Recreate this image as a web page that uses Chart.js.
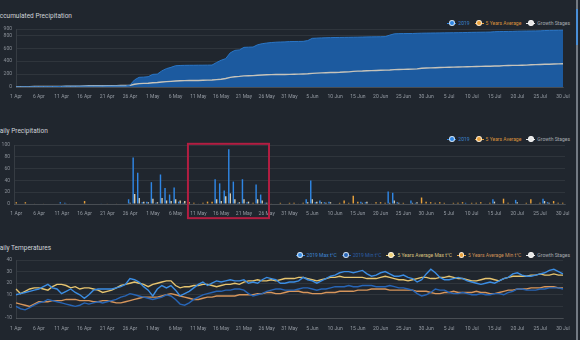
<!DOCTYPE html>
<html>
<head>
<meta charset="utf-8">
<script src="https://cdn.jsdelivr.net/npm/chart.js@4.4.1/dist/chart.umd.min.js"></script>
<style>
  html, body { margin: 0; padding: 0; background: #20262e; width: 580px; height: 340px; overflow: hidden; }
  body { position: relative; font-family: Roboto, 'Liberation Sans', sans-serif; }
  canvas { position: absolute; left: 0; }
  .title { position: absolute; left: -4.5px; font-size: 6.5px; line-height: 1; color: #cfd3d8; white-space: nowrap; }
  .legend { position: absolute; right: 10px; height: 5px; display: flex; align-items: center; font-size: 5px; line-height: 1; white-space: nowrap; }
  .legend .item { display: flex; align-items: center; margin-left: 5px; }
  .legend .mk { position: relative; width: 9px; height: 5px; margin-right: 2px; }
  .legend .ln { position: absolute; left: 0; right: 0; top: 2px; height: 1px; }
  .legend .dot { position: absolute; left: 2.2px; top: 0.2px; width: 3.8px; height: 3.8px; border-radius: 50%; border: 0.6px solid rgba(255,255,255,0.75); box-sizing: content-box; margin-left: -0.7px; margin-top: -0.5px; }
  .scroll { position: absolute; left: 576px; top: 0; width: 2px; height: 340px; background: #737a83; }
  .thumb { position: absolute; left: 0; top: 9px; width: 2px; height: 36px; background: #4a8fd8; }
</style>
</head>
<body>
<div class="title" style="top:12.7px">Accumulated Precipitation</div>
<div class="legend" id="legend1" style="top:20.8px"></div>
<canvas id="accChart" width="580" height="92" style="top:18px"></canvas>

<div class="title" style="top:127.7px">Daily Precipitation</div>
<div class="legend" id="legend2" style="top:136.5px"></div>
<canvas id="dailyChart" width="580" height="100" style="top:128px"></canvas>

<div class="title" style="top:244.7px">Daily Temperatures</div>
<div class="legend" id="legend3" style="top:252.5px"></div>
<canvas id="tempChart" width="580" height="96" style="top:244px"></canvas>

<div class="scroll"><div class="thumb"></div></div>

<script>
// categories: 1 Apr .. 30 Jul
const months = [['Apr', 30], ['May', 31], ['Jun', 30], ['Jul', 30]];
const days = [];
months.forEach(([m, n]) => { for (let d = 1; d <= n; d++) days.push(d + ' ' + m); });

// accumulated precipitation (mm)
const accum2019 = [
  2,2,3,3,4,4,5,5,6,6,
  9,11,12,12,12,13,13,13,13,14,
  14,14,15,15,15,30,110,150,153,160,
  196,200,250,285,305,330,334,336,337,337,
  338,338,339,340,380,415,440,530,568,575,
  615,618,620,655,672,682,690,695,698,700,
  705,706,707,708,720,755,758,762,764,766,
  768,769,770,771,772,773,775,777,778,779,
  780,782,805,825,828,829,830,830,833,835,
  836,837,838,839,840,841,842,843,844,846,
  848,849,850,851,852,858,860,861,862,863,
  866,867,868,869,870,871,876,878,879,880,881
];
const accumAvg = [
  3,3,6,6,7,7,8,9,9,10,
  10,11,12,12,13,18,19,19,20,20,
  21,21,22,23,23,25,42,52,56,59,
  66,70,78,84,88,93,97,99,100,101,
  102,104,106,108,114,120,132,150,160,165,
  172,175,177,183,187,190,192,193,194,195,
  196,198,200,202,205,212,216,219,221,224,
  226,228,232,234,242,246,248,252,254,257,
  260,262,264,270,272,274,276,278,281,290,
  294,297,299,302,304,306,308,310,312,314,
  316,318,320,321,323,326,327,332,334,335,
  336,338,340,346,347,349,352,354,358,359,361
];
const accumTicks = [0, 200, 400, 600, 800, 900];

// daily precipitation (mm)
const daily2019 = [
  0,0,0,0,1,0,1,0,1,0,
  3,2,1,0,0,1,0,0,0,1,
  0,0,1,0,0,8,79,53,3,4,
  37,2,50,27,16,28,4,2,1,0,
  1,0,1,0,42,35,23,93,38,2,
  42,3,1,33,16,2,0,0,1,0,
  0,1,0,1,8,40,3,6,3,4,
  1,0,0,1,0,1,4,3,1,0,
  1,0,21,19,3,1,0,6,2,1,
  1,0,1,0,0,0,0,1,0,2,
  1,0,0,1,0,8,1,0,0,0,
  7,1,0,0,0,1,9,3,0,1,1
];
const dailyAvg = [
  3,0,3,0,1,0,1,1,0,1,
  0,1,1,0,1,5,1,0,1,0,
  1,0,1,1,0,2,17,10,4,3,
  9,3,10,6,5,8,6,5,3,2,
  1,2,4,4,8,5,13,18,8,3,
  8,4,2,8,6,2,1,1,2,1,
  2,2,1,2,3,8,4,3,2,3,
  1,2,6,2,14,4,2,4,1,3,
  3,2,2,6,2,2,1,2,3,11,
  4,3,2,3,2,1,2,2,3,1,
  2,2,3,1,2,4,1,9,2,1,
  3,1,2,8,1,2,5,2,5,2,2
];
const dailyTicks = [0, 20, 40, 60, 80, 100];
const highlightX = [37.7, 55.5];
const highlightY = [-24, 102];

// daily temperatures (°C)
const max2019 = [
  10,11,12,13,14,15,17,19,16,15,
  11,13,15,12,10,7,10,14,15,15,
  15,15,16,17,19,24,23,21,17,14,
  9,15,18,16,18,14,9,11,13,16,
  19,21,18,20,22,21,22,23,22,22,
  23,20,21,20,23,25,24,23,20,20,
  21,21,22,25,23,22,20,22,24,26,
  27,29,30,30,29,30,31,28,26,27,
  29,30,28,26,26,27,25,24,21,23,
  28,32,29,25,23,23,24,25,24,22,
  21,20,19,20,21,20,22,24,25,28,
  29,27,26,26,27,28,29,31,32,30,28
];
const min2019 = [
  0,-2,-3,-1,1,3,4,6,5,4,
  3,2,1,0,1,3,2,3,4,3,
  4,5,6,8,9,11,10,9,8,7,
  6,7,8,10,9,6,2,1,3,6,
  8,10,11,12,13,13,14,14,15,15,
  14,11,9,10,11,13,14,15,15,14,
  14,14,15,16,16,15,14,15,15,16,
  17,17,17,18,17,17,18,18,18,17,
  17,17,18,17,16,16,15,14,11,9,
  10,12,15,14,14,12,11,11,12,11,
  10,10,11,10,10,11,11,10,12,13,
  15,15,14,14,14,15,15,16,16,16,15
];
const maxAvg = [
  15,11,13,15,16,16,15,14,17,19,
  19,18,16,17,15,16,16,15,14,12,
  13,14,16,18,19,20,21,20,19,17,
  19,20,21,22,22,18,16,17,17,18,
  18,19,19,18,17,18,19,19,20,19,
  21,22,22,23,22,22,23,22,23,24,
  24,24,25,25,24,23,22,23,24,25,
  25,26,25,25,25,25,25,24,24,24,
  25,26,25,24,23,23,22,23,24,25,
  25,24,24,25,25,26,25,24,24,23,
  22,22,23,24,24,23,22,24,25,26,
  26,26,26,27,27,28,27,27,28,27,27
];
const minAvg = [
  3,2,1,0,2,4,4,4,5,5,
  5,6,6,6,5,5,5,4,4,5,
  5,4,3,3,4,5,6,7,8,8,
  8,8,9,10,11,10,9,8,7,6,
  6,7,8,8,9,9,9,9,9,10,
  10,10,10,11,11,12,12,11,11,12,
  13,13,13,12,12,11,11,11,12,12,
  12,13,13,13,13,14,14,14,15,15,
  15,15,14,14,14,14,14,14,13,13,
  13,12,11,11,12,12,13,12,12,12,
  12,13,12,12,11,11,12,13,14,14,
  15,15,15,16,16,16,17,17,17,16,16
];
const tempTicks = [-10, 0, 10, 20, 30, 40];

const BLUE = '#2f86e4', ORANGE = '#e9a23c', CREAM = '#d8cdb0', WHITE = '#e6e6e6';
const tickFont = { family: 'Roboto', size: 5 };
const gridColor = 'rgba(255,255,255,0.07)';

function buildLegend(id, items) {
  const el = document.getElementById(id);
  items.forEach(it => {
    const item = document.createElement('span');
    item.className = 'item';
    item.innerHTML = '<span class="mk"><span class="ln" style="background:' + it.color + '"></span>' +
      '<span class="dot" style="background:' + it.color + '"></span></span>';
    const t = document.createElement('span');
    t.textContent = it.text;
    t.style.color = it.textColor;
    item.appendChild(t);
    el.appendChild(item);
  });
}

function xAxis(pad) {
  return {
    grid: { display: false, drawTicks: false },
    border: { color: 'rgba(255,255,255,0.12)' },
    ticks: {
      color: '#959ba3', font: tickFont, padding: pad, autoSkip: false, maxRotation: 0,
      callback: (v, i) => (i % 5 === 0 ? days[i] : null)
    }
  };
}

function yAxis(ticks, width) {
  return {
    min: ticks[0], max: ticks[ticks.length - 1],
    afterBuildTicks: s => { s.ticks = ticks.map(v => ({ value: v })); },
    afterFit: s => { s.width = width; },
    grid: { color: gridColor, drawTicks: false },
    border: { display: true, color: 'rgba(255,255,255,0.1)' },
    ticks: { color: '#8a9098', font: tickFont, padding: 4 }
  };
}

const noPlugins = { legend: { display: false }, tooltip: { enabled: false } };

// --- accumulated
new Chart(document.getElementById('accChart'), {
  type: 'line',
  data: {
    labels: days,
    datasets: [
      { label: '2019', data: accum2019, fill: 'origin', backgroundColor: '#1c5a9f', borderColor: '#2b76c6', borderWidth: 1, pointRadius: 0 },
      { label: '5 Years Average', data: accumAvg, fill: false, borderColor: '#c6c3ba', borderWidth: 1.4, pointRadius: 0 },
      { label: 'Growth Stages', data: [], borderColor: WHITE, pointRadius: 0 }
    ]
  },
  options: {
    responsive: false, animation: false,
    layout: { padding: { top: 11, bottom: 3, left: 0, right: 17 } },
    plugins: Object.assign({ filler: { drawTime: 'beforeDatasetsDraw' } }, noPlugins),
    scales: { x: xAxis(7), y: yAxis(accumTicks, 16) }
  }
});

// --- daily precipitation
const highlightBox = {
  id: 'highlightBox',
  afterDraw(chart) {
    const { ctx, scales: { x, y } } = chart;
    const x0 = x.getPixelForValue(highlightX[0]), x1 = x.getPixelForValue(highlightX[1]);
    const y0 = y.getPixelForValue(highlightY[1]), y1 = y.getPixelForValue(highlightY[0]);
    ctx.save();
    ctx.strokeStyle = '#b21e42';
    ctx.lineWidth = 2;
    ctx.strokeRect(x0, y0, x1 - x0, y1 - y0);
    ctx.restore();
  }
};

new Chart(document.getElementById('dailyChart'), {
  type: 'bar',
  data: {
    labels: days,
    datasets: [
      { label: '2019', data: daily2019, backgroundColor: BLUE },
      { label: '5 Years Average', data: dailyAvg,
        backgroundColor: c => (daily2019[c.dataIndex] >= 2 ? CREAM : ORANGE) },
      { label: 'Growth Stages', data: [], backgroundColor: WHITE }
    ]
  },
  options: {
    responsive: false, animation: false,
    layout: { padding: { top: 17, bottom: 4, left: 0, right: 15 } },
    plugins: noPlugins,
    datasets: { bar: { categoryPercentage: 1, barPercentage: 0.95 } },
    scales: { x: xAxis(7), y: yAxis(dailyTicks, 14) }
  },
  plugins: [highlightBox]
});

// --- temperatures
new Chart(document.getElementById('tempChart'), {
  type: 'line',
  data: {
    labels: days,
    datasets: [
      { label: '2019 Max t°C', data: max2019, borderColor: '#3b8de3', borderWidth: 1.4, pointRadius: 0 },
      { label: '2019 Min t°C', data: min2019, borderColor: '#2765b6', borderWidth: 1.4, pointRadius: 0 },
      { label: '5 Years Average Max t°C', data: maxAvg, borderColor: '#e6c46f', borderWidth: 1.4, pointRadius: 0 },
      { label: '5 Years Average Min t°C', data: minAvg, borderColor: '#d6955b', borderWidth: 1.4, pointRadius: 0 },
      { label: 'Growth Stages', data: [], borderColor: WHITE, pointRadius: 0 }
    ]
  },
  options: {
    responsive: false, animation: false,
    layout: { padding: { top: 16, bottom: 0, left: 0, right: 17 } },
    plugins: noPlugins,
    scales: { x: xAxis(8), y: yAxis(tempTicks, 16) }
  }
});

const precipLegend = [
  { text: '2019', color: BLUE, textColor: '#3b84d2' },
  { text: '5 Years Average', color: ORANGE, textColor: '#d8923c' },
  { text: 'Growth Stages', color: WHITE, textColor: '#a6abb2' }
];
buildLegend('legend1', precipLegend);
buildLegend('legend2', precipLegend);
buildLegend('legend3', [
  { text: '2019 Max t°C', color: '#3b8de3', textColor: '#3f86d4' },
  { text: '2019 Min t°C', color: '#2765b6', textColor: '#2c5fa6' },
  { text: '5 Years Average Max t°C', color: '#efd27a', textColor: '#d9c27e' },
  { text: '5 Years Average Min t°C', color: ORANGE, textColor: '#cf9157' },
  { text: 'Growth Stages', color: WHITE, textColor: '#a6abb2' }
]);
</script>
</body>
</html>
